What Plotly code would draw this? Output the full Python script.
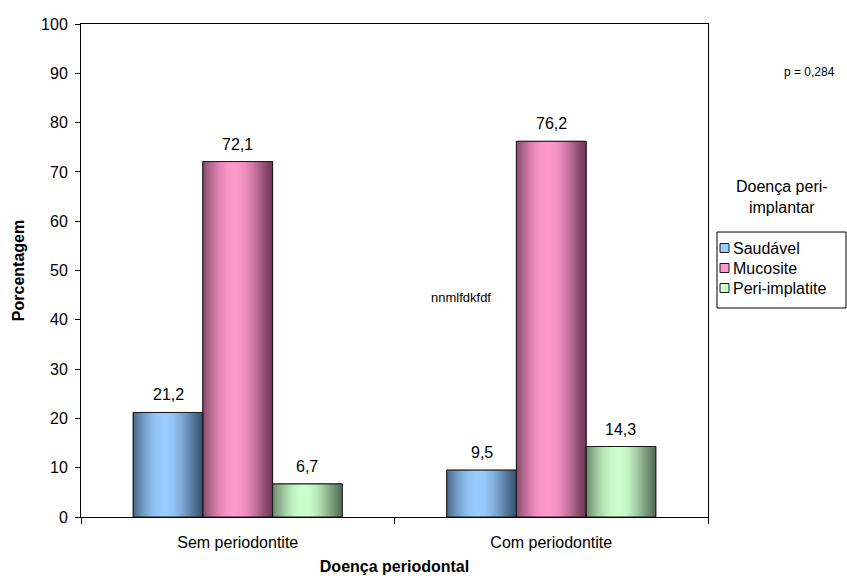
import plotly.graph_objects as go

# Data
categories = ["Sem periodontite", "Com periodontite"]
series_names = ["Saudável", "Mucosite", "Peri-implatite"]
saudavel = [21.2, 9.5]
mucosite = [72.1, 76.2]
peri_implatite = [6.7, 14.3]
series_values = [saudavel, mucosite, peri_implatite]
y_ticks = list(range(0, 101, 10))

# Light (highlight) and dark (edge) colours for the cylinder-like shading
light_colors = [(153, 204, 255), (255, 153, 204), (204, 255, 204)]
dark_colors = [(58, 84, 114), (112, 58, 88), (88, 112, 86)]

W, H = 847, 580
M_L, M_R, M_T, M_B = 81, 139, 24, 63
PW, PH = W - M_L - M_R, H - M_T - M_B

bar_w = 0.2222
group_start = -1.5 * bar_w
n_slices = 36
font_family = "Arial, Liberation Sans, sans-serif"


def px_x(x):
    return (x - M_L) / PW


def px_y(y):
    return (H - M_B - y) / PH


def rgb(c):
    return "rgb(%d,%d,%d)" % c


def shade(light, dark, t):
    s = 1 - ((t - 0.45) / 0.55) ** 2
    s = max(0.0, min(1.0, s)) ** 1.5
    return rgb(tuple(int(round(d + (l - d) * s)) for l, d in zip(light, dark)))


fig = go.Figure()

# Base bars: solid fill with outline
for k, (name, vals) in enumerate(zip(series_names, series_values)):
    fig.add_trace(go.Bar(
        x=categories, y=vals, name=name,
        offset=group_start + k * bar_w, width=bar_w,
        marker=dict(color=rgb(light_colors[k]), line=dict(color="#1a1a1a", width=1)),
        showlegend=False, hoverinfo="skip",
    ))

# Horizontal gradient: overlapping slices, each running to the bar's right edge
for k, vals in enumerate(series_values):
    dw = bar_w / n_slices
    for i in range(n_slices):
        t = (i + 0.5) / n_slices
        fig.add_trace(go.Bar(
            x=categories, y=vals,
            offset=group_start + k * bar_w + i * dw,
            width=(n_slices - i) * dw,
            marker=dict(color=shade(light_colors[k], dark_colors[k], t), line=dict(width=0)),
            showlegend=False, hoverinfo="skip",
        ))

# Outlines on top
for k, (name, vals) in enumerate(zip(series_names, series_values)):
    fig.add_trace(go.Bar(
        x=categories, y=vals,
        offset=group_start + k * bar_w, width=bar_w,
        marker=dict(color="rgba(0,0,0,0)", line=dict(color="#1a1a1a", width=1)),
        showlegend=False, hoverinfo="skip",
    ))

# Value labels above each bar
for k, vals in enumerate(series_values):
    for i, v in enumerate(vals):
        fig.add_annotation(
            x=i + (k - 1) * bar_w, y=v, xref="x", yref="y",
            text=f"{v:.1f}".replace(".", ","), showarrow=False,
            xanchor="center", yanchor="bottom", yshift=7, font=dict(size=16),
        )

fig.update_layout(
    width=W, height=H,
    barmode="overlay",
    paper_bgcolor="white", plot_bgcolor="white",
    margin=dict(l=M_L, r=M_R, t=M_T, b=M_B, autoexpand=False),
    font=dict(family=font_family, size=16, color="black"),
    showlegend=False,
)

fig.update_xaxes(
    range=[-0.5, 1.5], showline=True, linecolor="black", linewidth=1, mirror=True,
    ticks="outside", tickson="boundaries", ticklen=6, tickcolor="black",
    showgrid=False, zeroline=False, ticklabelstandoff=11,
    tickfont=dict(size=16),
    title=dict(text="<b>Doença periodontal</b>", font=dict(size=16), standoff=10),
)
fig.update_yaxes(
    range=[0, 100], tickvals=y_ticks, showline=True, linecolor="black", linewidth=1, mirror=True,
    ticks="outside", ticklen=5, tickcolor="black",
    showgrid=False, zeroline=False, ticklabelstandoff=4,
    tickfont=dict(size=16),
    title=dict(text="<b>Porcentagem</b>", font=dict(size=16), standoff=12),
)

# Legend: title, framed box, colour keys and labels
fig.add_annotation(
    text="Doença peri-<br>implantar", xref="paper", yref="paper",
    x=px_x(782), y=px_y(197), xanchor="center", yanchor="middle", showarrow=False,
    font=dict(size=16), align="center",
)
fig.add_shape(type="rect", xref="paper", yref="paper",
              x0=px_x(717), x1=px_x(846), y0=px_y(232), y1=px_y(308),
              line=dict(color="black", width=1), fillcolor="white", layer="below")
entry_y = [248, 268, 288]
for k, name in enumerate(series_names):
    fig.add_shape(type="rect", xref="paper", yref="paper",
                  x0=px_x(720), x1=px_x(729), y0=px_y(entry_y[k] - 4.5), y1=px_y(entry_y[k] + 4.5),
                  line=dict(color="#1a1a1a", width=1), fillcolor=rgb(light_colors[k]))
    fig.add_annotation(
        text=name, xref="paper", yref="paper", x=px_x(731), y=px_y(entry_y[k]),
        xanchor="left", yanchor="middle", showarrow=False, font=dict(size=16),
    )

fig.add_annotation(
    text="p = 0,284", xref="paper", yref="paper",
    x=px_x(809), y=px_y(72), xanchor="center", yanchor="middle",
    showarrow=False, font=dict(size=12),
)
fig.add_annotation(
    text="nnmlfdkfdf", xref="paper", yref="paper",
    x=px_x(461), y=px_y(297), xanchor="center", yanchor="middle",
    showarrow=False, font=dict(size=13),
)

fig.write_html("out.html")
